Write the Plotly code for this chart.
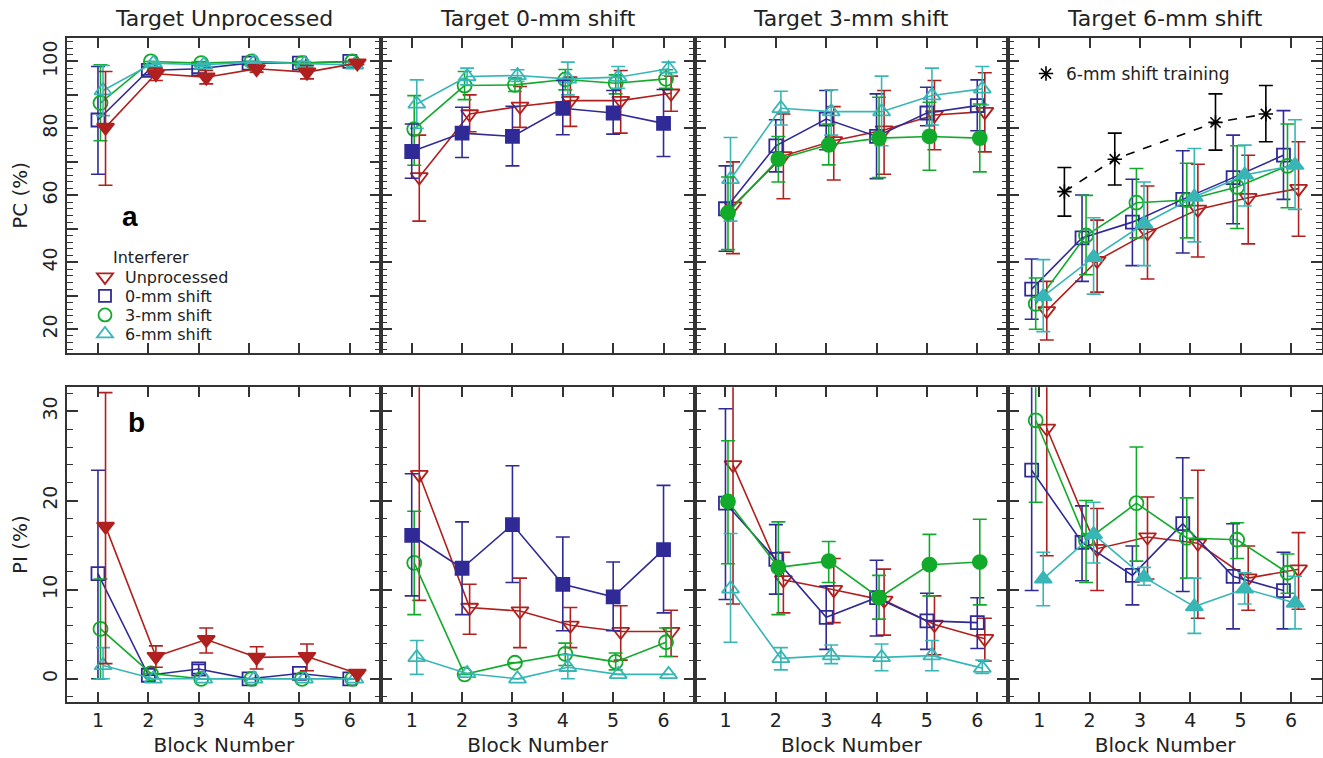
import plotly.graph_objects as go
from plotly.subplots import make_subplots

# ---------------- data ----------------
blocks = [1, 2, 3, 4, 5, 6]
targets = ["Target Unprocessed", "Target 0-mm shift", "Target 3-mm shift", "Target 6-mm shift"]
series_names = ["Unprocessed", "0-mm shift", "3-mm shift", "6-mm shift"]

# PC (%) means / upper / lower, one row per target panel
pc_unproc = [[80.3, 96.3, 95.3, 97.8, 96.8, 99.5],
             [65.5, 84.3, 86.6, 88.3, 88.3, 90.5],
             [56.8, 71.8, 76.3, 79.5, 84.0, 85.0],
             [25.5, 40.5, 48.8, 55.8, 59.3, 62.0]]
pc_unproc_hi = [[97.0, 98.0, 97.3, 98.8, 98.8, 100.0],
                [78.0, 90.0, 92.5, 95.3, 97.3, 95.6],
                [70.0, 84.3, 86.5, 91.3, 94.3, 96.6],
                [34.3, 52.6, 62.8, 69.3, 72.0, 76.0]]
pc_unproc_lo = [[63.0, 94.3, 93.3, 96.8, 94.8, 99.0],
                [52.3, 79.0, 80.3, 80.6, 78.6, 85.1],
                [42.6, 59.0, 64.6, 66.3, 73.6, 73.0],
                [16.8, 31.1, 35.0, 41.6, 45.5, 47.8]]

pc_0mm = [[82.5, 97.3, 97.8, 99.5, 99.5, 100.0],
          [73.1, 78.6, 77.6, 86.0, 84.6, 81.5],
          [56.0, 74.8, 82.8, 77.6, 84.6, 86.8],
          [32.0, 47.3, 52.0, 58.8, 65.3, 72.0]]
pc_0mm_hi = [[98.5, 98.5, 99.0, 100.0, 100.0, 100.0],
             [81.3, 86.3, 86.6, 94.3, 91.3, 91.6],
             [68.8, 82.6, 91.3, 90.3, 92.3, 94.5],
             [41.0, 60.1, 64.8, 73.3, 78.0, 85.3]]
pc_0mm_lo = [[66.3, 96.0, 96.5, 99.0, 99.0, 100.0],
             [65.1, 71.3, 68.8, 78.1, 78.3, 71.6],
             [43.3, 67.0, 73.6, 65.0, 80.8, 79.3],
             [23.0, 34.3, 39.0, 42.8, 51.5, 58.8]]

pc_3mm = [[87.6, 100.0, 99.5, 100.0, 99.5, 100.0],
          [79.8, 92.8, 93.0, 94.6, 93.5, 94.8],
          [54.8, 70.8, 75.1, 77.1, 77.6, 77.1],
          [27.6, 48.0, 57.8, 58.6, 62.5, 68.8]]
pc_3mm_hi = [[99.0, 100.0, 100.0, 100.0, 100.0, 100.0],
             [89.8, 97.0, 95.0, 97.6, 96.0, 97.5],
             [65.5, 77.6, 81.3, 89.3, 87.8, 87.3],
             [35.3, 60.0, 68.0, 69.6, 74.8, 81.3]]
pc_3mm_lo = [[76.3, 100.0, 99.0, 100.0, 99.0, 100.0],
             [69.0, 88.6, 91.0, 91.5, 90.3, 92.0],
             [43.8, 64.0, 69.1, 65.3, 67.5, 67.0],
             [20.0, 36.3, 47.3, 47.3, 50.1, 56.3]]

pc_6mm = [[91.3, 99.5, 99.0, 99.8, 99.3, 99.0],
          [87.3, 95.5, 95.8, 94.8, 95.3, 97.8],
          [64.8, 86.0, 85.0, 85.0, 89.8, 91.8],
          [29.8, 41.5, 51.5, 59.5, 66.1, 69.0]]
pc_6mm_hi = [[98.8, 100.0, 99.5, 100.0, 100.0, 99.5],
             [94.5, 98.0, 97.5, 99.8, 98.5, 99.8],
             [77.3, 91.1, 91.5, 95.6, 98.0, 98.5],
             [40.8, 53.3, 64.0, 74.0, 75.0, 82.6]]
pc_6mm_lo = [[83.8, 99.0, 98.5, 99.5, 98.6, 98.5],
             [80.0, 93.0, 94.0, 90.0, 92.0, 95.8],
             [52.3, 81.0, 78.0, 74.8, 81.0, 87.0],
             [19.3, 30.5, 39.0, 46.1, 56.8, 55.8]]

# 6-mm shift training (target 6-mm panel)
train_blocks = [1.5, 2.5, 4.5, 5.5]
train_pc = [61.1, 70.8, 81.8, 84.3]
train_pc_hi = [68.3, 78.6, 90.3, 92.8]
train_pc_lo = [53.8, 63.1, 73.5, 76.0]

# PI (%) means / upper / lower
pi_unproc = [[17.1, 2.5, 4.4, 2.4, 2.5, 0.6],
             [22.9, 8.0, 7.6, 6.0, 5.3, 5.3],
             [24.0, 11.1, 10.0, 8.8, 6.1, 4.5],
             [28.1, 14.6, 15.9, 15.2, 11.3, 12.3]]
pi_unproc_hi = [[32.1, 3.7, 5.7, 3.6, 3.9, 0.6],
                [40.0, 10.6, 11.3, 8.0, 8.2, 7.7],
                [40.0, 14.2, 13.5, 12.3, 9.3, 6.8],
                [40.0, 19.1, 20.4, 23.4, 14.9, 16.4]]
pi_unproc_lo = [[1.7, 1.3, 2.9, 1.1, 0.9, 0.6],
                [8.8, 5.0, 3.5, 3.5, 2.1, 2.5],
                [8.4, 7.4, 6.3, 4.9, 2.7, 2.0],
                [13.8, 9.9, 11.2, 6.8, 7.7, 7.8]]

pi_0mm = [[11.8, 0.4, 1.1, 0.0, 0.6, 0.0],
          [16.1, 12.4, 17.3, 10.6, 9.2, 14.5],
          [19.7, 13.4, 6.9, 9.1, 6.5, 6.3],
          [23.4, 15.3, 11.6, 17.4, 11.5, 9.9]]
pi_0mm_hi = [[23.4, 0.4, 1.6, 0.0, 0.6, 0.0],
             [23.0, 17.6, 23.9, 15.9, 13.1, 21.7],
             [30.3, 17.3, 10.4, 13.3, 9.6, 9.1],
             [40.0, 19.4, 14.9, 24.8, 17.4, 14.2]]
pi_0mm_lo = [[0.0, 0.4, 0.6, 0.0, 0.6, 0.0],
             [9.3, 7.2, 10.8, 5.4, 5.4, 7.4],
             [8.9, 9.5, 3.3, 4.8, 3.3, 3.4],
             [9.9, 11.0, 8.3, 9.8, 5.6, 5.6]]

pi_3mm = [[5.6, 0.6, 0.0, 0.0, 0.0, 0.0],
          [13.0, 0.5, 1.8, 2.8, 1.9, 4.1],
          [19.9, 12.5, 13.2, 9.1, 12.8, 13.1],
          [29.0, 15.5, 19.7, 15.8, 15.6, 11.9]]
pi_3mm_hi = [[11.2, 0.6, 0.0, 0.0, 0.0, 0.0],
             [18.8, 0.5, 1.8, 4.0, 2.9, 5.7],
             [26.7, 17.6, 15.4, 11.6, 16.2, 17.9],
             [40.0, 20.0, 26.0, 20.3, 17.5, 14.0]]
pi_3mm_lo = [[0.0, 0.6, 0.0, 0.0, 0.0, 0.0],
             [7.2, 0.5, 1.8, 1.5, 1.0, 2.5],
             [12.9, 7.2, 10.8, 6.7, 9.3, 8.3],
             [19.8, 10.8, 13.2, 11.3, 13.5, 9.6]]

pi_6mm = [[1.5, 0.0, 0.0, 0.0, 0.0, 0.0],
          [2.4, 0.6, 0.0, 1.3, 0.5, 0.5],
          [10.1, 2.3, 2.6, 2.4, 2.6, 1.2],
          [11.2, 16.2, 11.4, 8.1, 10.1, 8.5]]
pi_6mm_hi = [[3.5, 0.0, 0.0, 0.0, 0.0, 0.0],
             [4.3, 0.6, 0.0, 2.7, 0.5, 0.5],
             [16.3, 3.5, 3.8, 3.9, 4.3, 2.1],
             [14.2, 19.8, 12.5, 11.3, 11.9, 11.5]]
pi_6mm_lo = [[0.0, 0.0, 0.0, 0.0, 0.0, 0.0],
             [0.5, 0.6, 0.0, 0.0, 0.5, 0.5],
             [4.1, 1.0, 1.7, 0.9, 0.9, 0.6],
             [8.2, 13.0, 10.5, 5.1, 8.4, 5.6]]

pc_ticks = [20, 30, 40, 50, 60, 70, 80, 90, 100]
pc_ticktext = ["20", "", "40", "", "60", "", "80", "", "100"]
pi_ticks = [0, 10, 20, 30]
pi_ticktext = ["0", "10", "20", "30"]

# ---------------- style ----------------
FONT = "DejaVu Sans"
colors = ["#B0201E", "#2F2A96", "#12AA2A", "#38B6B6"]
symbols = ["triangle-down", "square", "circle", "triangle-up"]
msize = [15, 13, 14, 15]
offsets_a = [0.15, 0.0, 0.05, 0.10]     # panels 1-3
offsets_b = [0.15, -0.15, -0.07, 0.08]  # panel 4
frame = "#333333"
txt = "#222222"
W, H = 1323, 758
ML, MR, MT, MB = 67, 1, 38, 56
PH = H - MT - MB
PWpx = W - ML - MR

pc_sets = [(pc_unproc, pc_unproc_hi, pc_unproc_lo), (pc_0mm, pc_0mm_hi, pc_0mm_lo),
           (pc_3mm, pc_3mm_hi, pc_3mm_lo), (pc_6mm, pc_6mm_hi, pc_6mm_lo)]
pi_sets = [(pi_unproc, pi_unproc_hi, pi_unproc_lo), (pi_0mm, pi_0mm_hi, pi_0mm_lo),
           (pi_3mm, pi_3mm_hi, pi_3mm_lo), (pi_6mm, pi_6mm_hi, pi_6mm_lo)]

fig = make_subplots(rows=2, cols=4, horizontal_spacing=0, vertical_spacing=0.052)


def add_series(row, col, s, m, hi, lo, filled):
    offs = offsets_b if col == 4 else offsets_a
    x = [b + offs[s] for b in blocks]
    plus = [h - v for h, v in zip(hi, m)]
    minus = [v - l for v, l in zip(m, lo)]
    sym = symbols[s] if filled else symbols[s] + "-open"
    fig.add_trace(go.Scatter(
        x=x, y=m, mode="lines+markers",
        line=dict(color=colors[s], width=1.6),
        marker=dict(symbol=sym, size=msize[s], color=colors[s],
                    line=dict(color=colors[s], width=1.8)),
        error_y=dict(type="data", symmetric=False, array=plus, arrayminus=minus,
                     color=colors[s], thickness=1.6, width=7),
        showlegend=False, hoverinfo="skip"), row=row, col=col)


for row, sets in ((1, pc_sets), (2, pi_sets)):
    for t in range(4):
        col = t + 1
        order = [s for s in range(4) if s != t] + [t]
        for s in order:
            m, hi, lo = sets[s]
            add_series(row, col, s, m[t], hi[t], lo[t], filled=(s == t))

# training
fig.add_trace(go.Scatter(
    x=train_blocks, y=train_pc, mode="lines+markers",
    line=dict(color="black", width=1.6, dash="dash"),
    marker=dict(symbol="asterisk-open", size=12, color="black", line=dict(color="black", width=1.6)),
    error_y=dict(type="data", symmetric=False,
                 array=[h - v for h, v in zip(train_pc_hi, train_pc)],
                 arrayminus=[v - l for v, l in zip(train_pc, train_pc_lo)],
                 color="black", thickness=1.6, width=7),
    showlegend=False, hoverinfo="skip"), row=1, col=4)

# legend entries: one small legend per interferer so rows sit close together
legend_layout = {}
for s in range(4):
    lname = "legend" if s == 0 else "legend%d" % (s + 2)
    fig.add_trace(go.Scatter(
        x=[None], y=[None], mode="markers", name=series_names[s],
        marker=dict(symbol=symbols[s] + "-open", size=msize[s] - 1, color=colors[s],
                    line=dict(color=colors[s], width=1.8)),
        legend=lname), row=1, col=1)
    ycen = 277 + 19 * s
    legend_layout[lname] = dict(
        x=(85 - ML) / PWpx, y=(H - MB - ycen) / PH, xanchor="left", yanchor="middle",
        font=dict(family=FONT, size=16, color=txt), bgcolor="rgba(0,0,0,0)",
        itemwidth=30, borderwidth=0)
fig.add_trace(go.Scatter(
    x=[None], y=[None], mode="markers", name="6-mm shift training",
    marker=dict(symbol="asterisk-open", size=12, color="black", line=dict(color="black", width=1.6)),
    legend="legend2"), row=1, col=4)
legend_layout["legend2"] = dict(
    x=(1026 - ML) / PWpx, y=(H - MB - 74) / PH, xanchor="left", yanchor="middle",
    font=dict(family=FONT, size=17, color=txt), bgcolor="rgba(0,0,0,0)", itemwidth=30)

# ---------------- axes ----------------
pw = 1.0 / 4
for i in range(8):
    row = 1 if i < 4 else 2
    col = i % 4 + 1
    xd = [pw * (col - 1), pw * col]
    fig.update_xaxes(
        row=row, col=col, domain=xd, range=[0.385, 6.615], tickvals=blocks,
        ticks="inside", ticklen=10, tickwidth=1.5, tickcolor=frame,
        showline=True, linecolor=frame, linewidth=2, mirror="ticks",
        showgrid=False, zeroline=False, automargin=False,
        showticklabels=(row == 2),
        tickfont=dict(family=FONT, size=19, color=txt),
        title=dict(text="Block Number" if row == 2 else "",
                   font=dict(family=FONT, size=20, color=txt), standoff=8))
    if row == 1:
        fig.update_yaxes(
            row=row, col=col, domain=[(H - MB - 352.7) / PH, 1.0], range=[13, 107],
            tickvals=pc_ticks, ticktext=pc_ticktext,
            minor=dict(dtick=2, tick0=0, ticks="inside", ticklen=6, tickwidth=1.3, tickcolor=frame))
    else:
        fig.update_yaxes(
            row=row, col=col, domain=[0.0, (H - MB - 387.3) / PH], range=[-2.6, 32.7],
            tickvals=pi_ticks, ticktext=pi_ticktext,
            minor=dict(dtick=2, tick0=0, ticks="inside", ticklen=6, tickwidth=1.3, tickcolor=frame))
    fig.update_yaxes(
        row=row, col=col, ticks="inside", ticklen=11, tickwidth=1.5, tickcolor=frame,
        showline=True, linecolor=frame, linewidth=2, mirror="ticks",
        showgrid=False, zeroline=False, automargin=False,
        showticklabels=(col == 1), tickangle=-90,
        tickfont=dict(family=FONT, size=19, color=txt),
        title=dict(text=("PC (%)" if row == 1 else "PI (%)") if col == 1 else "",
                   font=dict(family=FONT, size=20, color=txt), standoff=6))

annotations = []
for t in range(4):
    annotations.append(dict(text=targets[t], xref="paper", yref="paper",
                            x=pw * (t + 0.5), y=1.0, yshift=5, xanchor="center", yanchor="bottom",
                            showarrow=False, font=dict(family=FONT, size=22, color=txt)))
annotations.append(dict(text="<b>a</b>", xref="x", yref="y", x=1.63, y=53.7, showarrow=False,
                        font=dict(family="Liberation Sans", size=28, color="black")))
annotations.append(dict(text="<b>b</b>", xref="x5", yref="y5", x=1.77, y=28.7, showarrow=False,
                        font=dict(family="Liberation Sans", size=28, color="black")))
annotations.append(dict(text="Interferer", xref="paper", yref="paper",
                        x=(111 - ML) / PWpx, y=(H - MB - 257) / PH, xanchor="left", yanchor="middle",
                        showarrow=False, font=dict(family=FONT, size=16, color=txt)))

fig.update_layout(
    width=W, height=H,
    margin=dict(l=ML, r=MR, t=MT, b=MB),
    paper_bgcolor="white", plot_bgcolor="white",
    annotations=annotations,
    **legend_layout,
)

fig.write_html("out.html", config={"displayModeBar": False},
               post_script="document.body.style.margin='0';document.body.style.overflow='hidden';")
